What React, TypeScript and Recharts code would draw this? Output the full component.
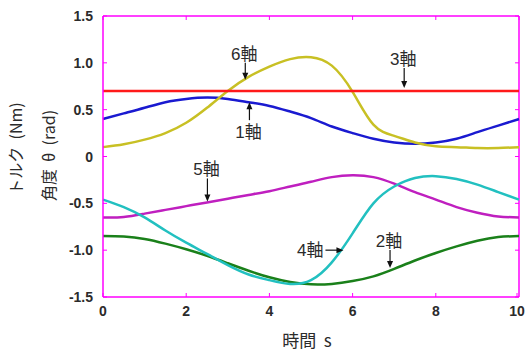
import { LineChart, Line, XAxis, YAxis, ReferenceDot, ReferenceLine } from "recharts";

// time axis (s) and joint values
const TIME = [0, 0.5, 1, 1.5, 2, 2.5, 3, 3.5, 4, 4.5, 5, 5.5, 6, 6.5, 7, 7.5, 8, 8.5, 9, 9.5, 10];
const AXIS1 = [0.4, 0.46, 0.52, 0.58, 0.615, 0.63, 0.615, 0.58, 0.54, 0.48, 0.41, 0.32, 0.25, 0.19, 0.15, 0.135, 0.15, 0.19, 0.26, 0.33, 0.4];
const AXIS2 = [-0.85, -0.855, -0.88, -0.93, -0.99, -1.06, -1.14, -1.22, -1.29, -1.34, -1.365, -1.36, -1.33, -1.28, -1.2, -1.11, -1.03, -0.96, -0.9, -0.86, -0.85];
const AXIS3 = [0.7, 0.7, 0.7, 0.7, 0.7, 0.7, 0.7, 0.7, 0.7, 0.7, 0.7, 0.7, 0.7, 0.7, 0.7, 0.7, 0.7, 0.7, 0.7, 0.7, 0.7];
const AXIS4 = [-0.46, -0.54, -0.65, -0.79, -0.92, -1.04, -1.16, -1.26, -1.32, -1.36, -1.32, -1.13, -0.82, -0.5, -0.32, -0.23, -0.21, -0.24, -0.3, -0.38, -0.46];
const AXIS5 = [-0.65, -0.645, -0.61, -0.57, -0.53, -0.49, -0.45, -0.41, -0.37, -0.32, -0.27, -0.22, -0.2, -0.22, -0.29, -0.38, -0.46, -0.54, -0.6, -0.64, -0.65];
const AXIS6 = [0.1, 0.13, 0.18, 0.25, 0.36, 0.52, 0.7, 0.85, 0.96, 1.04, 1.06, 0.97, 0.69, 0.34, 0.22, 0.15, 0.11, 0.1, 0.09, 0.09, 0.1];

const X_TICKS = [0, 2, 4, 6, 8, 10];
const Y_TICKS = [-1.5, -1, -0.5, 0, 0.5, 1, 1.5];

// arrow annotations: label, tip position (t, value), direction, arrow length
const NOTE_LABELS = ["6軸", "3軸", "1軸", "5軸", "4軸", "2軸"];
const NOTE_T = [3.42, 7.24, 3.52, 2.51, 5.78, 6.9];
const NOTE_V = [0.82, 0.73, 0.58, -0.48, -1.0, -1.19];
const NOTE_DIR = ["down", "down", "up", "down", "right", "down"];
const NOTE_LEN = [17, 20, 18, 23, 18, 18];

const data = TIME.map((t, i) => ({
  t,
  a1: AXIS1[i],
  a2: AXIS2[i],
  a3: AXIS3[i],
  a4: AXIS4[i],
  a5: AXIS5[i],
  a6: AXIS6[i],
}));

const FRAME = "#ff00ff";
const INK = "#2b2b2b";
const FONT = "'Liberation Sans', Arial, 'Noto Sans CJK JP', sans-serif";
const JP = "'Noto Sans CJK JP', 'Liberation Sans', sans-serif";
const GAP = "\u00a0\u00a0";

function BottomTick({ x, y, payload }: any) {
  return (
    <g>
      <line x1={x} y1={y} x2={x} y2={y - 4} stroke={FRAME} />
      <text x={x} y={y + 19} textAnchor="middle" fontSize={14} fontWeight="bold" fill={INK} fontFamily={FONT}>
        {payload.value}
      </text>
    </g>
  );
}

function LeftTick({ x, y, payload }: any) {
  const v = payload.value;
  return (
    <g>
      <line x1={x} y1={y} x2={x + 4} y2={y} stroke={FRAME} />
      <text x={x - 10} y={y + 5} textAnchor="end" fontSize={14} fontWeight="bold" fill={INK} fontFamily={FONT}>
        {v === 0 ? "0" : v.toFixed(1)}
      </text>
    </g>
  );
}

function YTitle({ viewBox }: any) {
  const cy = viewBox.y + viewBox.height / 2;
  return (
    <g fontFamily={JP} fontSize={16} fill={INK}>
      <text x={15} y={cy - 8} transform={`rotate(-90 15 ${cy - 8})`} textAnchor="middle" dominantBaseline="central">
        {`トルク${GAP}(Nm)`}
      </text>
      <text x={48} y={cy - 1} transform={`rotate(-90 48 ${cy - 1})`} textAnchor="middle" dominantBaseline="central">
        {`角度${GAP}θ${GAP}(rad)`}
      </text>
    </g>
  );
}

function XTitle({ viewBox }: any) {
  const cx = viewBox.x + viewBox.width / 2 - 4;
  return (
    <text x={cx} y={347} textAnchor="middle" fontFamily={JP} fontSize={17} fill={INK}>
      {`時間${GAP}s`}
    </text>
  );
}

function Note({ cx, cy, i }: any) {
  const label = NOTE_LABELS[i];
  const dir = NOTE_DIR[i];
  const len = NOTE_LEN[i];
  const style = { fontFamily: FONT, fontSize: 17, fill: INK };
  if (dir === "down") {
    return (
      <g>
        <line x1={cx} y1={cy - len} x2={cx} y2={cy - 5} stroke="#111" strokeWidth={1.2} />
        <polygon points={`${cx - 3},${cy - 7} ${cx + 3},${cy - 7} ${cx},${cy}`} fill="#111" />
        <text x={cx - 1} y={cy - len - 3} textAnchor="middle" {...style}>{label}</text>
      </g>
    );
  }
  if (dir === "up") {
    return (
      <g>
        <line x1={cx} y1={cy + len} x2={cx} y2={cy + 5} stroke="#111" strokeWidth={1.2} />
        <polygon points={`${cx - 3},${cy + 7} ${cx + 3},${cy + 7} ${cx},${cy}`} fill="#111" />
        <text x={cx - 1} y={cy + len + 18} textAnchor="middle" {...style}>{label}</text>
      </g>
    );
  }
  return (
    <g>
      <line x1={cx - len} y1={cy} x2={cx - 5} y2={cy} stroke="#111" strokeWidth={1.2} />
      <polygon points={`${cx - 7},${cy - 3} ${cx - 7},${cy + 3} ${cx},${cy}`} fill="#111" />
      <text x={cx - len - 2} y={cy + 6} textAnchor="end" {...style}>{label}</text>
    </g>
  );
}

export default function App() {
  return (
    <div style={{ position: "absolute", left: 0, top: 0, background: "#fff" }}>
      <LineChart width={525} height={353} data={data} margin={{ top: 16, right: 6, bottom: 0, left: 0 }}>
        <XAxis
          dataKey="t"
          type="number"
          domain={[0, 10]}
          ticks={X_TICKS}
          height={56}
          tickSize={0}
          tickMargin={0}
          tick={<BottomTick />}
          axisLine={{ stroke: FRAME, strokeWidth: 1.5 }}
          label={<XTitle />}
        />
        <YAxis
          type="number"
          domain={[-1.5, 1.5]}
          ticks={Y_TICKS}
          width={103}
          tickSize={0}
          tickMargin={0}
          tick={<LeftTick />}
          axisLine={{ stroke: FRAME, strokeWidth: 1.5 }}
          label={<YTitle />}
        />
        <ReferenceLine y={1.5} stroke={FRAME} strokeWidth={1.5} ifOverflow="visible" />
        <ReferenceLine x={10} stroke={FRAME} strokeWidth={1.5} ifOverflow="visible" />
        {X_TICKS.map((t) => (
          <ReferenceDot
            key={`top-${t}`}
            x={t}
            y={1.5}
            r={0}
            ifOverflow="visible"
            shape={(p: any) => <line x1={p.cx} y1={p.cy} x2={p.cx} y2={p.cy + 4} stroke={FRAME} />}
          />
        ))}
        {Y_TICKS.map((v) => (
          <ReferenceDot
            key={`right-${v}`}
            x={10}
            y={v}
            r={0}
            ifOverflow="visible"
            shape={(p: any) => <line x1={p.cx} y1={p.cy} x2={p.cx - 4} y2={p.cy} stroke={FRAME} />}
          />
        ))}
        <Line dataKey="a2" type="natural" stroke="#1a801a" strokeWidth={2.5} dot={false} isAnimationActive={false} />
        <Line dataKey="a5" type="natural" stroke="#bf1fbf" strokeWidth={2.5} dot={false} isAnimationActive={false} />
        <Line dataKey="a4" type="natural" stroke="#22c0c0" strokeWidth={2.5} dot={false} isAnimationActive={false} />
        <Line dataKey="a1" type="natural" stroke="#1a1ad0" strokeWidth={2.5} dot={false} isAnimationActive={false} />
        <Line dataKey="a6" type="natural" stroke="#c8c024" strokeWidth={2.5} dot={false} isAnimationActive={false} />
        <Line dataKey="a3" type="natural" stroke="#ff1a1a" strokeWidth={2.5} dot={false} isAnimationActive={false} />
        {NOTE_LABELS.map((label, i) => (
          <ReferenceDot
            key={label}
            x={NOTE_T[i]}
            y={NOTE_V[i]}
            r={0}
            ifOverflow="visible"
            shape={(p: any) => <Note cx={p.cx} cy={p.cy} i={i} />}
          />
        ))}
      </LineChart>
    </div>
  );
}
